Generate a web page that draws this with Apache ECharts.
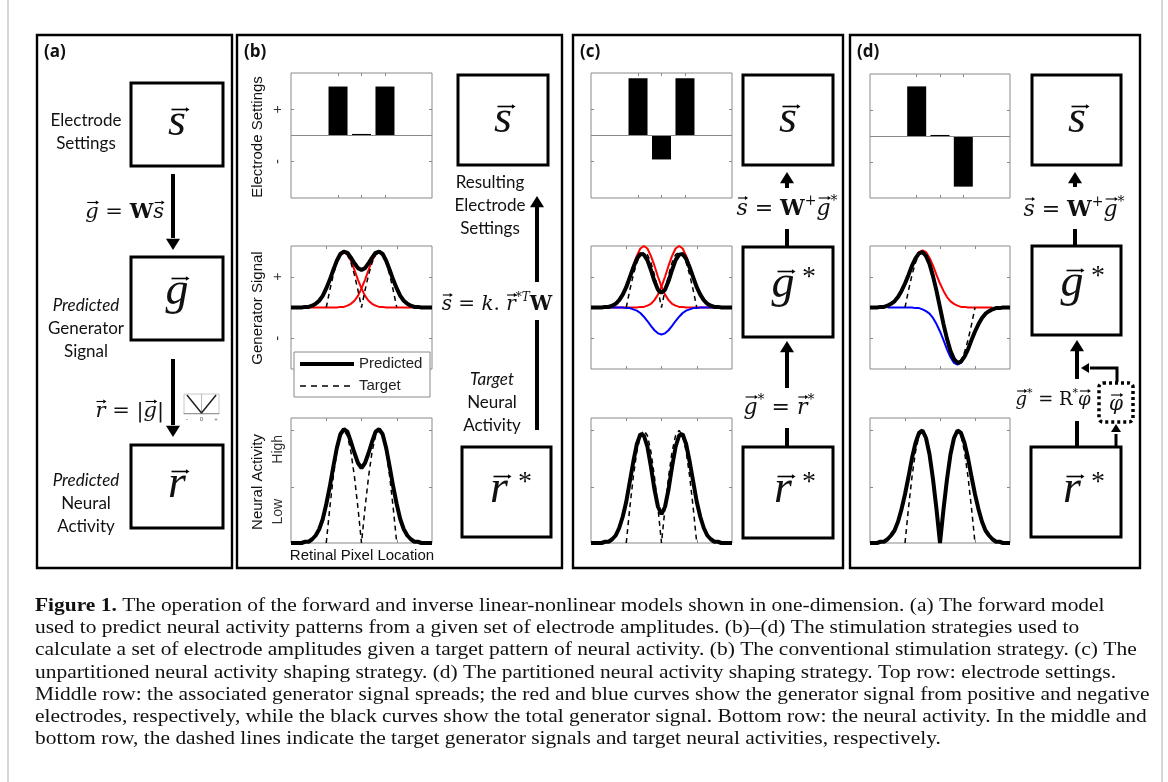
<!DOCTYPE html>
<html>
<head>
<meta charset="utf-8">
<title>Figure 1</title>
<script src="https://cdn.jsdelivr.net/npm/echarts@6.0.0/dist/echarts.min.js"></script>
<style>
  html, body { margin: 0; padding: 0; background: #fff; }
  #chart { width: 1168px; height: 782px; }
</style>
</head>
<body>
<div id="chart"></div>
<script>
// retinal positions (0 = between the electrodes, electrodes at -3.33 / 0 / 3.33)
const xPos = [-10, -9.5, -9, -8.5, -8, -7.5, -7, -6.5, -6, -5.5, -5, -4.5, -4, -3.5, -3, -2.5, -2, -1.5, -1, -0.5,
  0, 0.5, 1, 1.5, 2, 2.5, 3, 3.5, 4, 4.5, 5, 5.5, 6, 6.5, 7, 7.5, 8, 8.5, 9, 9.5, 10]

// electrode settings (top row)
const electrodeX = [-3.33, 0, 3.33]
const barsB = [0.94, 0.03, 0.94]
const barsC = [1.10, -0.46, 1.10]
const barsD = [0.96, 0.02, -0.98]

// target pattern (dashed lines)
const targetHumps = ['-', '-', '-', '-', '-', '-', '-', '-', '-', '-', 0, 0.28, 0.53, 0.73, 0.86, 0.90, 0.86, 0.73, 0.53, 0.28,
  0, 0.28, 0.53, 0.73, 0.86, 0.90, 0.86, 0.73, 0.53, 0.28, 0, '-', '-', '-', '-', '-', '-', '-', '-', '-', '-']
const targetSigned = ['-', '-', '-', '-', '-', '-', '-', '-', '-', '-', 0, 0.28, 0.53, 0.73, 0.86, 0.90, 0.86, 0.73, 0.53, 0.28,
  0, -0.28, -0.53, -0.73, -0.86, -0.90, -0.86, -0.73, -0.53, -0.28, 0, '-', '-', '-', '-', '-', '-', '-', '-', '-', '-']

// (b) conventional
const redB1 = ['-', '-', '-', '-', '-', 0.01, 0.03, 0.06, 0.11, 0.19, 0.31, 0.45, 0.61, 0.76, 0.86, 0.90, 0.86, 0.76, 0.61, 0.45,
  0.31, 0.19, 0.11, 0.06, 0.03, 0.01, 0.01, 0, 0, 0, 0, 0, 0, 0, 0, 0, '-', '-', '-', '-', '-']
const redB2 = ['-', '-', '-', '-', '-', 0, 0, 0, 0, 0, 0, 0, 0, 0, 0.01, 0.01, 0.03, 0.06, 0.11, 0.19,
  0.31, 0.45, 0.61, 0.76, 0.86, 0.90, 0.86, 0.76, 0.61, 0.45, 0.31, 0.19, 0.11, 0.06, 0.03, 0.01, '-', '-', '-', '-', '-']
const blackB = [0, 0, 0, 0, 0.01, 0.01, 0.03, 0.06, 0.11, 0.19, 0.31, 0.45, 0.61, 0.76, 0.87, 0.91, 0.89, 0.81, 0.72, 0.64,
  0.61, 0.64, 0.72, 0.81, 0.89, 0.91, 0.87, 0.76, 0.61, 0.45, 0.31, 0.19, 0.11, 0.06, 0.03, 0.01, 0.01, 0, 0, 0, 0]
const neuralB = [0, 0, 0, 0, 0.01, 0.01, 0.03, 0.06, 0.11, 0.19, 0.31, 0.45, 0.61, 0.76, 0.87, 0.91, 0.89, 0.81, 0.72, 0.64,
  0.60, 0.64, 0.72, 0.81, 0.89, 0.91, 0.87, 0.76, 0.61, 0.45, 0.31, 0.19, 0.11, 0.06, 0.03, 0.01, 0.01, 0, 0, 0, 0]

// (c) unpartitioned
const redC1 = ['-', '-', '-', '-', '-', 0.01, 0.03, 0.06, 0.12, 0.21, 0.34, 0.50, 0.68, 0.84, 0.96, 1.00, 0.96, 0.84, 0.68, 0.50,
  0.34, 0.21, 0.12, 0.06, 0.03, 0.01, 0.01, 0, 0, 0, 0, 0, 0, 0, 0, 0, '-', '-', '-', '-', '-']
const redC2 = ['-', '-', '-', '-', '-', 0, 0, 0, 0, 0, 0, 0, 0, 0, 0.01, 0.01, 0.03, 0.06, 0.12, 0.21,
  0.34, 0.50, 0.68, 0.84, 0.96, 1.00, 0.96, 0.84, 0.68, 0.50, 0.34, 0.21, 0.12, 0.06, 0.03, 0.01, '-', '-', '-', '-', '-']
const blueC = ['-', '-', '-', '-', '-', 0, 0, 0, 0, 0, -0.01, -0.01, -0.03, -0.05, -0.09, -0.15, -0.22, -0.30, -0.37, -0.42,
  -0.44, -0.42, -0.37, -0.30, -0.22, -0.15, -0.09, -0.05, -0.03, -0.01, -0.01, 0, 0, 0, 0, 0, '-', '-', '-', '-', '-']
const blackC = [0, 0, 0, 0, 0.01, 0.01, 0.03, 0.06, 0.12, 0.21, 0.33, 0.49, 0.65, 0.79, 0.87, 0.86, 0.77, 0.61, 0.43, 0.29,
  0.24, 0.29, 0.43, 0.61, 0.77, 0.86, 0.87, 0.79, 0.65, 0.49, 0.33, 0.21, 0.12, 0.06, 0.03, 0.01, 0.01, 0, 0, 0, 0]
const neuralC = [0, 0, 0, 0, 0.01, 0.01, 0.03, 0.06, 0.12, 0.21, 0.33, 0.49, 0.65, 0.79, 0.87, 0.86, 0.77, 0.61, 0.43, 0.29,
  0.23, 0.29, 0.43, 0.61, 0.77, 0.86, 0.87, 0.79, 0.65, 0.49, 0.33, 0.21, 0.12, 0.06, 0.03, 0.01, 0.01, 0, 0, 0, 0]

// (d) partitioned
const redD = ['-', '-', '-', '-', '-', 0.03, 0.06, 0.10, 0.17, 0.27, 0.39, 0.53, 0.68, 0.81, 0.90, 0.93, 0.90, 0.81, 0.68, 0.53,
  0.39, 0.27, 0.17, 0.10, 0.06, 0.03, 0.01, 0.01, 0, 0, 0, 0, 0, 0, 0, 0, '-', '-', '-', '-', '-']
const blueD = ['-', '-', '-', '-', '-', 0, 0, 0, 0, 0, 0, 0, 0, -0.01, -0.01, -0.03, -0.06, -0.10, -0.17, -0.27,
  -0.39, -0.53, -0.68, -0.81, -0.90, -0.93, -0.90, -0.81, -0.68, -0.53, -0.39, -0.27, -0.17, -0.10, -0.06, -0.03, '-', '-', '-', '-', '-']
const blackD = [0, 0, 0, 0.01, 0.01, 0.03, 0.06, 0.10, 0.17, 0.27, 0.39, 0.53, 0.68, 0.80, 0.88, 0.90, 0.84, 0.71, 0.51, 0.27,
  0, -0.27, -0.51, -0.71, -0.84, -0.90, -0.88, -0.80, -0.68, -0.53, -0.39, -0.27, -0.17, -0.10, -0.06, -0.03, -0.01, -0.01, 0, 0, 0]
const neuralD = [0, 0, 0, 0.01, 0.01, 0.03, 0.06, 0.10, 0.17, 0.27, 0.39, 0.53, 0.68, 0.80, 0.88, 0.90, 0.84, 0.71, 0.51, 0.27,
  0, 0.27, 0.51, 0.71, 0.84, 0.90, 0.88, 0.80, 0.68, 0.53, 0.39, 0.27, 0.17, 0.10, 0.06, 0.03, 0.01, 0.01, 0, 0, 0]

// |g| inset in (a)
const absX = [-1, 0, 1]
const absY = [1, 0, 1]

const legendNames = ['Predicted', 'Target']

const captionLines = [
  'The operation of the forward and inverse linear-nonlinear models shown in one-dimension. (a) The forward model',
  'used to predict neural activity patterns from a given set of electrode amplitudes. (b)–(d) The stimulation strategies used to',
  'calculate a set of electrode amplitudes given a target pattern of neural activity. (b) The conventional stimulation strategy. (c) The',
  'unpartitioned neural activity shaping strategy. (d) The partitioned neural activity shaping strategy. Top row: electrode settings.',
  'Middle row: the associated generator signal spreads; the red and blue curves show the generator signal from positive and negative',
  'electrodes, respectively, while the black curves show the total generator signal. Bottom row: the neural activity. In the middle and',
  'bottom row, the dashed lines indicate the target generator signals and target neural activities, respectively.'
]

const RED = '#ff0000', BLUE = '#0000ff', AXIS = '#8a8a8a'
const SANS = '"Liberation Sans", Arial, sans-serif'
const CAL = 'Lato, "Open Sans", sans-serif'
const MATH = '"DejaVu Serif", serif'
const THICK = 4

const grids = [], xAxes = [], yAxes = [], series = [], G = []

// one MATLAB-style axes box: ticks inside on all four sides
function plot(box, yMin, yMax, xTicks, yTicks, labels) {
  const k = grids.length
  const ax = { x: xAxes.length, y: yAxes.length }
  grids.push({ left: box[0], top: box[1], width: box[2], height: box[3], show: true,
    borderColor: AXIS, borderWidth: 1, backgroundColor: '#fff' })
  ;['bottom', 'top'].forEach(pos => xAxes.push({
    type: 'value', gridIndex: k, position: pos, min: -10, max: 10,
    splitLine: { show: false }, axisLine: { show: false, onZero: false },
    axisTick: { inside: true, length: 3, customValues: xTicks, lineStyle: { color: AXIS } },
    axisLabel: { show: false }
  }))
  ;['left', 'right'].forEach((pos, j) => yAxes.push({
    type: 'value', gridIndex: k, position: pos, min: yMin, max: yMax,
    splitLine: { show: false }, axisLine: { show: false, onZero: false },
    axisTick: { inside: true, length: 3, customValues: yTicks, lineStyle: { color: AXIS } },
    axisLabel: (j === 0 && labels) ? {
      customValues: labels.at, formatter: v => labels.text[labels.at.indexOf(v)],
      rotate: 90, margin: 6, color: '#333', fontFamily: SANS, fontSize: 14
    } : { show: false }
  }))
  return ax
}

function bars(ax, values) {
  series.push({
    type: 'bar', xAxisIndex: ax.x, yAxisIndex: ax.y,
    data: electrodeX.map((x, i) => [x, values[i]]), barWidth: 19, silent: true,
    itemStyle: { color: '#000' },
    markLine: { silent: true, symbol: 'none', label: { show: false },
      lineStyle: { color: AXIS, width: 1, type: 'solid' }, data: [{ yAxis: 0 }] }
  })
}

function curve(ax, values, color, width, dashed) {
  series.push({
    type: 'line', xAxisIndex: ax.x, yAxisIndex: ax.y,
    data: xPos.map((x, i) => [x, values[i]]), symbol: 'none', silent: true,
    lineStyle: { color: color, width: width, type: dashed ? [5, 4] : 'solid' }
  })
}

// ---------- plots ----------
const pm = { at: [-0.5, 0.5], text: ['-', '+'] }
const hl = { at: [0.25, 0.75], text: ['Low', 'High'] }

// (b)
let ax = plot([291, 73, 141, 125], -1.2, 1.2, electrodeX, [-0.5, 0.5], pm)
bars(ax, barsB)
ax = plot([291, 246, 141, 123], -1, 1, [-5, 0, 5], [-0.5, 0, 0.5], pm)
curve(ax, redB1, RED, 2)
curve(ax, redB2, RED, 2)
curve(ax, blackB, '#000', THICK)
curve(ax, targetHumps, '#000', 1.5, true)
ax = plot([291, 418, 141, 125], 0, 1, [-5, 0, 5], [0.45, 0.9], hl)
curve(ax, neuralB, '#000', THICK)
curve(ax, targetHumps, '#000', 1.5, true)

// (c)
ax = plot([591, 73, 141, 125], -1.2, 1.2, electrodeX, [-0.5, 0.5])
bars(ax, barsC)
ax = plot([591, 246, 141, 123], -1, 1, [-5, 0, 5], [-0.5, 0, 0.5])
curve(ax, redC1, RED, 2)
curve(ax, redC2, RED, 2)
curve(ax, blueC, BLUE, 2)
curve(ax, blackC, '#000', THICK)
curve(ax, targetHumps, '#000', 1.5, true)
ax = plot([591, 418, 141, 125], 0, 1, [-5, 0, 5], [0.45, 0.9])
curve(ax, neuralC, '#000', THICK)
curve(ax, targetHumps, '#000', 1.5, true)

// (d)
ax = plot([870, 74, 140, 124], -1.2, 1.2, electrodeX, [-0.5, 0.5])
bars(ax, barsD)
ax = plot([870, 246, 140, 123], -1, 1, [-5, 0, 5], [-0.5, 0, 0.5])
curve(ax, redD, RED, 2)
curve(ax, blueD, BLUE, 2)
curve(ax, blackD, '#000', THICK)
curve(ax, targetSigned, '#000', 1.5, true)
ax = plot([870, 418, 140, 125], 0, 1, [-5, 0, 5], [0.45, 0.9])
curve(ax, neuralD, '#000', THICK)
curve(ax, targetHumps, '#000', 1.5, true)

// (a) tiny |g| inset
grids.push({ left: 184, top: 394, width: 35, height: 20, show: true, borderColor: '#c8c8c8', borderWidth: 1 })
xAxes.push({ type: 'value', gridIndex: grids.length - 1, min: -1.2, max: 1.2,
  splitLine: { show: false }, axisLine: { lineStyle: { color: '#999' } }, axisTick: { show: false },
  axisLabel: { customValues: [-1, 0, 1], formatter: v => (v < 0 ? '-' : v > 0 ? '+' : '0'), fontSize: 6, margin: 2, color: '#555' } })
yAxes.push({ type: 'value', gridIndex: grids.length - 1, min: -0.05, max: 1.05,
  splitLine: { show: false }, axisLine: { onZero: true, lineStyle: { color: '#bbb' } },
  axisTick: { show: false }, axisLabel: { show: false } })
series.push({ type: 'line', xAxisIndex: xAxes.length - 1, yAxisIndex: yAxes.length - 1,
  data: absX.map((x, i) => [x, absY[i]]), symbol: 'none', silent: true, lineStyle: { color: '#222', width: 1.5 } })

// ---------- drawing helpers ----------
function box(x, y, w, h, lw) {
  G.push({ type: 'rect', shape: { x: x, y: y, width: w, height: h }, style: { fill: 'none', stroke: '#000', lineWidth: lw || 3 } })
}
function seg(x1, y1, x2, y2, lw, color) {
  G.push({ type: 'line', z: 11, shape: { x1: x1, y1: y1, x2: x2, y2: y2 }, style: { stroke: color || '#000', lineWidth: lw || 4 } })
}
function head(x, y, dir, s) {
  s = s || 7
  let pts
  if (dir === 'up') pts = [[x, y], [x - s, y + s * 1.6], [x + s, y + s * 1.6]]
  else if (dir === 'down') pts = [[x, y], [x - s, y - s * 1.6], [x + s, y - s * 1.6]]
  else if (dir === 'left') pts = [[x, y], [x + s * 1.6, y - s], [x + s * 1.6, y + s]]
  else pts = [[x, y], [x - s * 1.6, y - s], [x - s * 1.6, y + s]]
  G.push({ type: 'polygon', z: 11, shape: { points: pts }, style: { fill: '#000' } })
}
function label(x, y, text, font, align, rot) {
  G.push({ type: 'text', x: x, y: y, rotation: rot || 0, z: 10,
    style: { text: text, font: font, fill: '#111', textAlign: align || 'center', textVerticalAlign: 'middle' } })
}
// small vector arrow over a symbol
function overArrow(cx, y, len, lw) {
  seg(cx - len / 2, y, cx + len / 2 - 2, y, lw)
  head(cx + len / 2 + 1, y, 'right', Math.max(2, len * 0.13))
}
// big vector symbol inside a box
function vec(cx, gc, ch, star, size) {
  size = size || 46
  const lx = star ? cx - 7 : cx
  label(lx, gc - size * 0.11, ch, 'italic ' + size + 'px "Liberation Serif", serif')
  overArrow(lx + 3, gc - size * 0.25 - 7, 17, 1.6)
  if (star) label(lx + 19, gc - 12, '*', Math.round(size * 0.6) + 'px "Liberation Serif", serif', 'left')
}
// inline maths: tokens [kind, text]; kinds: v = italic vector, i = italic, n = upright, b = bold, s/si = superscript
const mctx = document.createElement('canvas').getContext('2d')
function eq(x, y, toks, fs, align) {
  const parts = toks.map(([k, t]) => {
    const sup = k === 's' || k === 'si'
    const size = sup ? Math.round(fs * 0.62) : fs
    const font = (k === 'i' || k === 'v' || k === 'si' ? 'italic ' : '') + (k === 'b' ? 'bold ' : '') + size + 'px ' + MATH
    mctx.font = font
    return { k: k, t: t, font: font, sup: sup, w: mctx.measureText(t).width }
  })
  const total = parts.reduce((a, p) => a + p.w, 0)
  let cx = align === 'right' ? x - total : align === 'left' ? x : x - total / 2
  parts.forEach(p => {
    G.push({ type: 'text', x: cx, y: p.sup ? y - fs * 0.36 : y, z: 10,
      style: { text: p.t, font: p.font, fill: '#111', textAlign: 'left', textVerticalAlign: 'middle' } })
    if (p.k === 'v') overArrow(cx + p.w * 0.55, y - fs * 0.5, Math.max(9, p.w * 0.8), 1.1)
    cx += p.w
  })
}

// outer light frame
seg(8, 0, 8, 782, 1.5, '#c8c8c8')
seg(1162, 0, 1162, 782, 1.5, '#c8c8c8')

// panel frames
box(37, 35, 195, 533, 2.4)
box(237, 35, 325, 533, 2.4)
box(573, 35, 270, 533, 2.4)
box(850, 35, 290, 533, 2.4)
const PL = 'bold 17px "Open Sans", sans-serif'
label(44, 52, '(a)', PL, 'left')
label(244, 52, '(b)', PL, 'left')
label(580, 52, '(c)', PL, 'left')
label(857, 52, '(d)', PL, 'left')

// ---- (a) forward model ----
const F17 = '17px ' + CAL, I17 = 'italic 17px ' + CAL
box(131, 83, 92, 83); vec(177, 128, 's')
box(131, 257, 92, 83); vec(177, 297, 'g')
box(131, 445, 92, 83); vec(177, 490, 'r')
label(86, 121, 'Electrode', F17); label(86, 144, 'Settings', F17)
label(86, 306, 'Predicted', I17); label(86, 329, 'Generator', F17); label(86, 352, 'Signal', F17)
label(86, 481, 'Predicted', I17); label(86, 504, 'Neural', F17); label(86, 527, 'Activity', F17)
seg(173, 174, 173, 238); head(173, 250, 'down')
seg(173, 359, 173, 425); head(173, 437, 'down')
eq(164, 213, [['v', 'g'], ['n', ' = '], ['b', 'W'], ['v', 's']], 21, 'right')
eq(164, 412, [['v', 'r'], ['n', ' = |'], ['v', 'g'], ['n', '|']], 21, 'right')

// ---- (b) conventional ----
box(458, 75, 90, 90); vec(503, 125, 's')
box(462, 447, 89, 90); vec(506, 495, 'r', true)
label(490, 183, 'Resulting', F17); label(490, 206, 'Electrode', F17); label(490, 229, 'Settings', F17)
label(492, 380, 'Target', I17); label(492, 403, 'Neural', F17); label(492, 426, 'Activity', F17)
head(537, 196, 'up'); seg(537, 205, 537, 282)
seg(537, 320, 537, 430)
eq(497, 305, [['v', 's'], ['n', ' = '], ['i', 'k'], ['n', '. '], ['v', 'r'], ['s', '*'], ['si', 'T'], ['b', 'W']], 20)
label(258, 137, 'Electrode Settings', '15px ' + SANS, 'center', Math.PI / 2)
label(258, 308, 'Generator Signal', '15px ' + SANS, 'center', Math.PI / 2)
label(258, 482, 'Neural Activity', '15px ' + SANS, 'center', Math.PI / 2)
label(362, 556, 'Retinal Pixel Location', '15px ' + SANS)

// legend of the middle (b) plot
G.push({ type: 'rect', z: 12, shape: { x: 294, y: 352, width: 136, height: 45 }, style: { fill: '#fff', stroke: AXIS, lineWidth: 1 } })
G.push({ type: 'line', z: 13, shape: { x1: 300, y1: 364, x2: 354, y2: 364 }, style: { stroke: '#000', lineWidth: THICK } })
G.push({ type: 'line', z: 13, shape: { x1: 300, y1: 386, x2: 354, y2: 386 }, style: { stroke: '#000', lineWidth: 1.5, lineDash: [6, 5] } })
G.push({ type: 'text', z: 13, x: 359, y: 364, style: { text: legendNames[0], font: '15px ' + SANS, fill: '#222', textVerticalAlign: 'middle' } })
G.push({ type: 'text', z: 13, x: 359, y: 386, style: { text: legendNames[1], font: '15px ' + SANS, fill: '#222', textVerticalAlign: 'middle' } })

// ---- (c) unpartitioned ----
box(743, 75, 90, 90); vec(788, 125, 's')
box(743, 247, 90, 90); vec(790, 290, 'g', true)
box(743, 447, 90, 91); vec(790, 495, 'r', true)
head(787, 172, 'up'); seg(787, 180, 787, 188)
seg(787, 229, 787, 247)
head(787, 341, 'up'); seg(787, 350, 787, 388)
seg(787, 428, 787, 447)
eq(787, 209, [['v', 's'], ['n', ' = '], ['b', 'W'], ['s', '+'], ['v', 'g'], ['s', '*']], 22)
eq(779, 408, [['v', 'g'], ['s', '*'], ['n', ' = '], ['v', 'r'], ['s', '*']], 22)

// ---- (d) partitioned ----
box(1032, 75, 89, 90); vec(1077, 125, 's')
box(1032, 246, 89, 89); vec(1079, 289, 'g', true)
box(1031, 447, 90, 90); vec(1079, 495, 'r', true)
head(1075, 172, 'up'); seg(1075, 180, 1075, 187)
seg(1075, 229, 1075, 246)
head(1077, 340, 'up'); seg(1077, 349, 1077, 379)
seg(1077, 421, 1077, 447)
G.push({ type: 'polyline', z: 11, shape: { points: [[1117, 382], [1117, 368], [1090, 368]] }, style: { stroke: '#000', lineWidth: 3, fill: 'none' } })
head(1081, 368, 'left', 5)
seg(1116, 447, 1116, 434, 3); head(1116, 424, 'up', 5)
G.push({ type: 'rect', z: 9, shape: { x: 1099, y: 383, width: 34, height: 39, r: 4 },
  style: { fill: '#fff', stroke: '#000', lineWidth: 3.5, lineDash: [3, 3] } })
eq(1116, 405, [['v', '\u03C6']], 20)
eq(1074, 210, [['v', 's'], ['n', ' = '], ['b', 'W'], ['s', '+'], ['v', 'g'], ['s', '*']], 22)
eq(1053, 400, [['v', 'g'], ['s', '*'], ['n', ' = '], ['n', 'R'], ['s', '*'], ['v', '\u03C6']], 18)

// ---- caption ----
const CF = '"Liberation Serif", "Times New Roman", serif'
G.push({ type: 'text', x: 35, y: 606, scaleX: 1.1, style: {
  text: '{b|Figure 1.} ' + captionLines[0], font: '19.5px ' + CF, fill: '#111', textVerticalAlign: 'middle',
  rich: { b: { fontFamily: CF, fontWeight: 'bold', fontSize: 19.5 } } } })
captionLines.slice(1).forEach((t, i) => G.push({ type: 'text', x: 35, y: 628 + i * 22.2, scaleX: 1.1,
  style: { text: t, font: '19.5px ' + CF, fill: '#111', textVerticalAlign: 'middle' } }))

const option = {
  animation: false,
  backgroundColor: '#fff',
  grid: grids,
  xAxis: xAxes,
  yAxis: yAxes,
  series: series,
  graphic: G
}

const myChart = echarts.init(document.getElementById('chart'), null, { renderer: 'canvas' })
myChart.setOption(option)
</script>
</body>
</html>
